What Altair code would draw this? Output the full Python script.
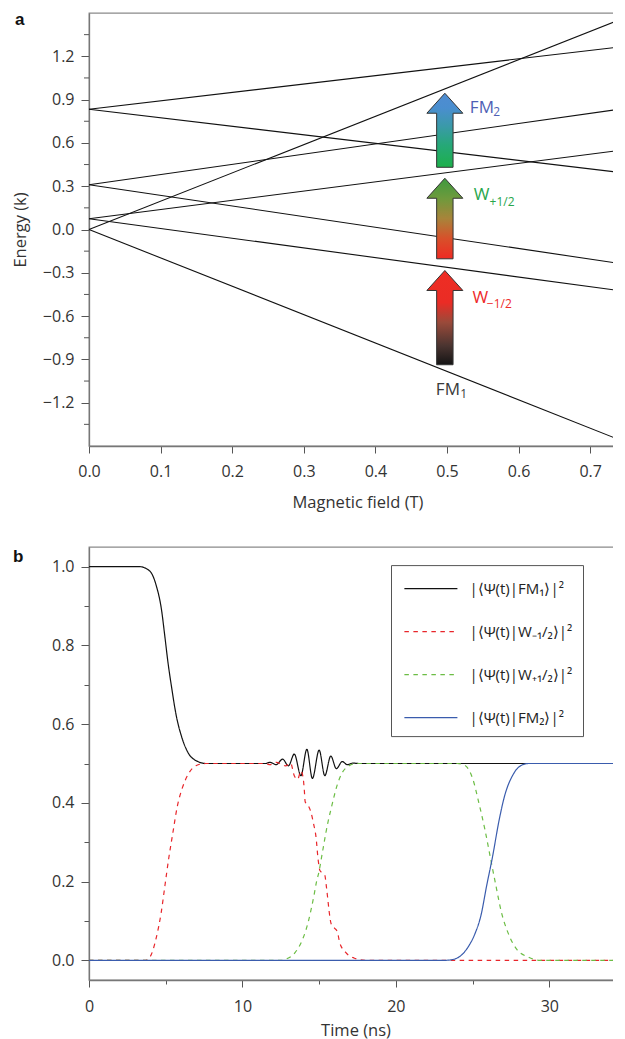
import altair as alt
import pandas as pd

# ---------------- Panel a: energy levels vs magnetic field ----------------
field_max = 0.75
energy_at_zero = [0.833, 0.833, 0.31, 0.31, 0.074, 0.074, 0.0, 0.0]
energy_at_max = [1.27, 0.39, 0.84, -0.242, 0.554, -0.43, 1.47, -1.475]

arrow_field = [0.497, 0.497, 0.497]
arrow_bottom = [-0.937, -0.203, 0.431]
arrow_tip = [-0.284, 0.355, 0.944]

energy_major_ticks = [-1.2, -0.9, -0.6, -0.3, 0.0, 0.3, 0.6, 0.9, 1.2]
energy_minor_ticks = [-1.35, -1.05, -0.75, -0.45, -0.15, 0.15, 0.45, 0.75, 1.05, 1.35]

# ---------------- Panel b: populations vs time ----------------
t_fm1 = [0, 3.3, 3.96, 4.39, 4.72, 4.94, 5.15, 5.37, 5.69, 6.02, 6.45, 6.99, 7.64,
         11.5, 11.8, 12.2, 12.62, 13.0, 13.38, 13.81, 14.2, 14.56, 15.0, 15.37,
         15.76, 16.12, 16.51, 16.84, 17.2, 17.6, 35]
p_fm1 = [1.0, 1.0, 0.989, 0.951, 0.892, 0.824, 0.756, 0.697, 0.621, 0.57, 0.528, 0.507, 0.5,
         0.5, 0.503, 0.497, 0.511, 0.494, 0.524, 0.469, 0.536, 0.462, 0.534, 0.469,
         0.519, 0.487, 0.505, 0.497, 0.501, 0.5, 0.5]

t_wm = [0, 3.7, 4.0, 4.4, 4.7, 4.95, 5.2, 5.45, 5.75, 6.1, 6.5, 7.0, 7.6,
        11.5, 11.8, 12.2, 12.57, 12.8, 13.14, 13.38, 13.6, 13.81, 13.96, 14.03, 14.09,
        14.3, 14.46, 14.63, 14.79, 14.94, 15.05, 15.2, 15.37, 15.47, 15.56, 15.65,
        15.78, 16.0, 16.19, 16.34, 16.73, 17.27, 18.0, 35]
p_wm = [0, 0, 0.01, 0.06, 0.12, 0.19, 0.26, 0.32, 0.39, 0.44, 0.475, 0.495, 0.5,
        0.5, 0.497, 0.503, 0.498, 0.494, 0.501, 0.469, 0.46, 0.481, 0.463, 0.434, 0.403,
        0.392, 0.377, 0.348, 0.315, 0.254, 0.228, 0.222, 0.216, 0.188, 0.157, 0.125,
        0.093, 0.082, 0.072, 0.045, 0.02, 0.006, 0, 0]

t_wp = [0, 12.6, 12.84, 13.44, 13.85, 14.14, 14.35, 14.52, 14.68, 14.82, 15.0, 15.15,
        15.28, 15.43, 15.58, 15.76, 15.97, 16.19, 16.51, 16.95, 17.4, 24.0, 24.5,
        25.02, 25.41, 25.8, 26.18, 26.52, 26.88, 27.3, 27.86, 28.64, 29.4, 35]
p_wp = [0, 0, 0.003, 0.02, 0.047, 0.077, 0.107, 0.137, 0.168, 0.198, 0.227, 0.26,
        0.289, 0.322, 0.352, 0.382, 0.416, 0.447, 0.477, 0.494, 0.5, 0.5, 0.495,
        0.46, 0.40, 0.333, 0.257, 0.19, 0.122, 0.071, 0.029, 0.008, 0, 0]

t_fm2 = [0, 23.2, 23.7, 24.24, 24.76, 25.15, 25.54, 25.92, 26.31, 26.7, 27.09, 27.6,
         28.12, 28.64, 35]
p_fm2 = [0, 0, 0.002, 0.012, 0.037, 0.067, 0.113, 0.19, 0.265, 0.35, 0.418, 0.469,
         0.494, 0.5, 0.5]

series_names = ["|⟨Ψ(t)|FM₁⟩|²", "|⟨Ψ(t)|W₋₁/₂⟩|²", "|⟨Ψ(t)|W₊₁/₂⟩|²", "|⟨Ψ(t)|FM₂⟩|²"]
series_colors = ["#111111", "#e8262b", "#6cbd45", "#3a5cad"]

# ---------------- layout constants ----------------
W, H = 537, 433
FONT = "Open Sans"
TXT = "#333333"
TICK = "#555555"
px_per_b = W / field_max
px_per_e = H / 3.0
head_len = 20 / px_per_e
shaft_half = 8.2 / px_per_b
head_half = 18 / px_per_b


def major_test(step):
    return f"abs(datum.value/{step} - round(datum.value/{step})) < 0.001"


def make_axis(values, fmt, step, major, minor, **kw):
    test = major_test(step)
    return alt.Axis(
        values=values, format=fmt,
        labelExpr=f"{test} ? datum.label : ''",
        tickSize={"condition": {"test": test, "value": major}, "value": minor},
        labelOverlap=False, **kw,
    )


# ---------------- panel a ----------------
rows = []
for i, (e0, e1) in enumerate(zip(energy_at_zero, energy_at_max)):
    rows.append({"line": i, "B": 0.0, "E": e0})
    rows.append({"line": i, "B": field_max, "E": e1})
lines_df = pd.DataFrame(rows)

xa_axis = make_axis([round(0.05 * i, 2) for i in range(16)], ".1f", 0.1, 7, 4,
                    labelFlush=False, labelPadding=10.5, titlePadding=14.5)
ya_axis = alt.Axis(values=energy_major_ticks, format=".1f", tickSize=8,
                   labelOverlap=False, labelPadding=7, titlePadding=9,
                   minExtent=52, maxExtent=52)
xa = alt.X("B:Q", scale=alt.Scale(domain=[0, field_max], nice=False, zero=False),
           axis=xa_axis, title="Magnetic field (T)")
ya = alt.Y("E:Q", scale=alt.Scale(domain=[-1.5, 1.5], nice=False, zero=False),
           axis=ya_axis, title="Energy (k)")

level_lines = alt.Chart(lines_df).mark_line(color="#111111", strokeWidth=1.1).encode(
    x=xa, y=ya, detail="line:N")

minor_ticks_a = alt.Chart(pd.DataFrame({"E": energy_minor_ticks})).mark_rule(
    color=TICK, strokeWidth=1).encode(
    y=alt.Y("E:Q"), x=alt.value(-5), x2=alt.value(0))

gradients = [
    [("#141414", 0), ("#4a3430", 0.2), ("#9a4a3a", 0.45), ("#ea2c25", 0.66), ("#ee2d24", 1)],
    [("#ef2a23", 0), ("#d8502a", 0.25), ("#a8843a", 0.5), ("#6e9a3c", 0.75), ("#3e9a40", 1)],
    [("#1db04b", 0), ("#26a878", 0.3), ("#3a9aa8", 0.55), ("#4a8ecf", 0.8), ("#4f8cd2", 1)],
]

layers_a = [level_lines, minor_ticks_a]
for i in range(3):
    b, e_lo, e_hi = arrow_field[i], arrow_bottom[i], arrow_tip[i]
    base = e_hi - head_len
    adf = pd.DataFrame({
        "E": [e_lo, base, base + 1e-4, e_hi],
        "B": [b - shaft_half, b - shaft_half, b - head_half, b],
        "B2": [b + shaft_half, b + shaft_half, b + head_half, b],
    })
    grad = alt.Gradient(
        gradient="linear",
        stops=[alt.GradientStop(color=c, offset=o) for c, o in gradients[i]],
        x1=0, x2=0, y1=1, y2=0,
    )
    layers_a.append(
        alt.Chart(adf).mark_area(orient="horizontal", color=grad, stroke="#333333",
                                 strokeWidth=1, interpolate="linear")
        .encode(y="E:Q", x="B:Q", x2="B2:Q")
    )

# arrow labels: (anchor B, anchor E, text, size, colour, dx, dy)
labels = [
    (arrow_field[0], arrow_bottom[0], "FM", 17, "#3a3a3a", -9, 30.7),
    (arrow_field[0], arrow_bottom[0], "1", 12, "#3a3a3a", 15.5, 33.7),
    (arrow_field[0], arrow_tip[0], "W", 17, "#ee2a2a", 27.7, 33),
    (arrow_field[0], arrow_tip[0], "−1/2", 12, "#ee2a2a", 42, 38),
    (arrow_field[1], arrow_tip[1], "W", 17, "#27a64c", 29, 21.3),
    (arrow_field[1], arrow_tip[1], "+1/2", 12, "#27a64c", 44.7, 27.3),
    (arrow_field[2], arrow_tip[2], "FM", 17, "#4f5fb5", 25, 19.3),
    (arrow_field[2], arrow_tip[2], "2", 12, "#4f5fb5", 48.5, 22.3),
]
for b, e, text, size, col, dx, dy in labels:
    layers_a.append(
        alt.Chart(pd.DataFrame({"B": [b], "E": [e], "txt": [text]}))
        .mark_text(align="left", baseline="alphabetic", font=FONT, fontSize=size,
                   color=col, dx=dx, dy=dy)
        .encode(x="B:Q", y="E:Q", text="txt:N")
    )

layers_a.append(
    alt.Chart(pd.DataFrame({"t": ["a"]})).mark_text(
        align="left", baseline="alphabetic", font="Liberation Sans", fontSize=17,
        fontWeight="bold", color="#111111")
    .encode(text="t:N", x=alt.value(-74), y=alt.value(12))
)

panel_a = alt.layer(*layers_a).properties(width=W, height=H)

# ---------------- panel b ----------------
brow = []
for name, ts, ps in zip(series_names, [t_fm1, t_wm, t_wp, t_fm2], [p_fm1, p_wm, p_wp, p_fm2]):
    for t, p in zip(ts, ps):
        brow.append({"series": name, "t": t, "p": p})
bdf = pd.DataFrame(brow)

xb_axis = make_axis([5 * i for i in range(8)], "d", 10, 7, 4,
                    labelFlush=False, labelPadding=11.5)
yb_axis = make_axis([round(0.1 * i, 1) for i in range(11)], ".1f", 0.2, 8, 5,
                    labelPadding=7, titlePadding=9, minExtent=52, maxExtent=52)

legend = alt.Legend(
    title=None, orient="none", legendX=302, legendY=18.1, direction="vertical",
    strokeColor="#555555", fillColor="white", padding=10,
    symbolType="M-2.08,0L2.08,0", symbolSize=650, symbolStrokeWidth=1.3,
    symbolOffset=16.4, gridAlign="all",
    labelFont=FONT, labelFontSize=15, labelColor="#222222", labelOffset=25.0,
    labelExpr="datum.label + '\u2002\u2002'",
    rowPadding=21, labelLimit=400,
)

lines_b = alt.Chart(bdf).mark_line(interpolate="monotone", strokeWidth=1.2).encode(
    x=alt.X("t:Q", scale=alt.Scale(domain=[0, 35], nice=False, zero=False),
            axis=xb_axis, title=None),
    y=alt.Y("p:Q", scale=alt.Scale(domain=[-0.05, 1.05], nice=False, zero=False),
            axis=yb_axis, title=" "),
    color=alt.Color("series:N", sort=series_names,
                    scale=alt.Scale(domain=series_names, range=series_colors),
                    legend=legend),
    strokeDash=alt.StrokeDash("series:N", sort=series_names,
                              scale=alt.Scale(domain=series_names,
                                              range=[[1, 0], [4.5, 4.5], [4.5, 4.5], [1, 0]]),
                              legend=legend),
)

letter_b = alt.Chart(pd.DataFrame({"t": ["b"]})).mark_text(
    align="left", baseline="alphabetic", font="Liberation Sans", fontSize=17,
    fontWeight="bold", color="#111111").encode(
    text="t:N", x=alt.value(-76), y=alt.value(14.5))

time_title = alt.Chart(pd.DataFrame({"t": ["Time (ns)"]})).mark_text(
    align="center", baseline="alphabetic", font=FONT, fontSize=16.5, color=TXT).encode(
    text="t:N", x=alt.value(267), y=alt.value(488.5))

panel_b = alt.layer(lines_b, letter_b, time_title).properties(width=W, height=H)

chart = (
    alt.vconcat(panel_a, panel_b, spacing=34)
    .resolve_legend(color="independent", strokeDash="independent")
    .properties(padding={"left": 3, "top": 2, "right": -17, "bottom": 0})
    .configure_view(stroke="#8a8a8a", strokeWidth=1.3)
    .configure_axis(
        labelFont=FONT, labelFontSize=16, labelColor=TXT,
        titleFont=FONT, titleFontSize=16.5, titleColor=TXT, titleFontWeight="normal",
        domainColor="#777777", domainWidth=1.3, tickColor=TICK, tickWidth=1,
        grid=False,
    )
)

chart.save("out.html", embed_options={"renderer": "svg", "actions": False})
